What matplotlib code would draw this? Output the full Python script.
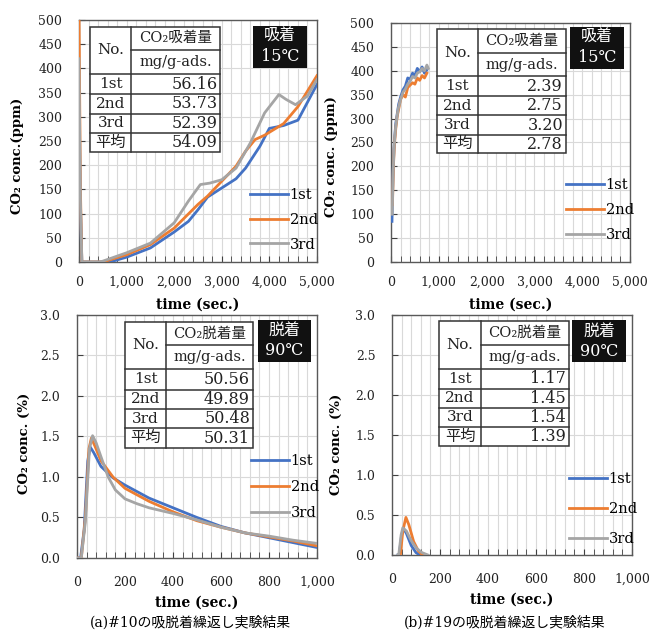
import matplotlib
matplotlib.use("Agg")
import matplotlib.pyplot as plt
from matplotlib.ticker import MultipleLocator, FuncFormatter
from matplotlib.patches import Rectangle

plt.rcParams['font.family'] = ['DejaVu Serif', 'Noto Sans CJK JP']

BLUE = '#4472C4'
ORANGE = '#ED7D31'
GRAY = '#A5A5A5'
series_labels = ['1st', '2nd', '3rd']
row_labels = ['1st', '2nd', '3rd', '平均']

# (a) #10 adsorption, CO2 ppm
a_ads_t1 = [0, 30, 60, 300, 650, 1000, 1500, 2000, 2300, 2500, 2700, 3000, 3300, 3500, 3800, 4000, 4300, 4600, 5000]
a_ads_y1 = [350, 120, 0, 0, 0, 10, 29, 62, 84, 108, 134, 153, 172, 194, 239, 276, 282, 293, 367]
a_ads_t2 = [0, 30, 60, 300, 500, 1000, 1500, 2000, 2500, 2700, 3000, 3300, 3500, 3700, 3900, 4100, 4300, 4600, 5000]
a_ads_y2 = [520, 150, 0, 0, 0, 15, 36, 70, 119, 136, 167, 198, 229, 253, 262, 274, 286, 321, 385]
a_ads_t3 = [0, 30, 60, 300, 450, 1000, 1500, 2000, 2300, 2550, 2750, 3000, 3300, 3600, 3900, 4200, 4350, 4550, 4800, 5000]
a_ads_y3 = [420, 130, 0, 0, 0, 19, 39, 81, 126, 160, 163, 170, 194, 246, 308, 346, 336, 325, 343, 377]
a_ads_table = ['56.16', '53.73', '52.39', '54.09']

# (b) #19 adsorption, CO2 ppm
b_ads_t1 = [20, 40, 60, 80, 100, 130, 160, 200, 250, 300, 350, 400, 450, 500, 550, 600, 650, 700, 750]
b_ads_y1 = [85, 180, 235, 265, 290, 310, 330, 345, 360, 368, 385, 382, 395, 390, 405, 398, 408, 395, 402]
b_ads_t2 = [30, 50, 70, 100, 130, 160, 200, 250, 300, 350, 400, 450, 500, 550, 600, 650, 700, 750]
b_ads_y2 = [120, 200, 245, 280, 305, 320, 340, 350, 345, 365, 370, 375, 372, 385, 380, 390, 385, 395]
b_ads_t3 = [25, 45, 65, 90, 120, 150, 200, 250, 300, 350, 400, 450, 500, 550, 600, 650, 700, 750, 780]
b_ads_y3 = [100, 190, 240, 275, 300, 320, 340, 355, 362, 372, 378, 388, 385, 395, 398, 405, 400, 412, 405]
b_ads_table = ['2.39', '2.75', '3.20', '2.78']

# (a) #10 desorption, CO2 %
a_des_t1 = [0, 15, 30, 45, 55, 70, 100, 150, 200, 300, 400, 500, 600, 700, 800, 900, 1000]
a_des_y1 = [0, 0, 0.35, 1.2, 1.37, 1.30, 1.13, 0.99, 0.90, 0.74, 0.62, 0.50, 0.39, 0.31, 0.25, 0.19, 0.13]
a_des_t2 = [0, 18, 35, 50, 60, 75, 100, 150, 200, 300, 400, 500, 600, 700, 800, 900, 1000]
a_des_y2 = [0, 0, 0.5, 1.35, 1.48, 1.38, 1.20, 1.00, 0.86, 0.70, 0.57, 0.46, 0.38, 0.31, 0.26, 0.21, 0.15]
a_des_t3 = [0, 18, 35, 52, 65, 80, 100, 130, 160, 200, 250, 300, 400, 500, 600, 700, 800, 900, 1000]
a_des_y3 = [0, 0, 0.45, 1.35, 1.51, 1.42, 1.25, 1.00, 0.84, 0.73, 0.67, 0.62, 0.55, 0.47, 0.38, 0.31, 0.27, 0.22, 0.18]
a_des_table = ['50.56', '49.89', '50.48', '50.31']

# (b) #19 desorption, CO2 %
b_des_t1 = [25, 30, 40, 48, 60, 80, 100, 115]
b_des_y1 = [0, 0, 0.25, 0.33, 0.27, 0.12, 0.03, 0]
b_des_t2 = [30, 35, 45, 58, 70, 90, 110, 128]
b_des_y2 = [0, 0, 0.30, 0.47, 0.38, 0.17, 0.05, 0]
b_des_t3 = [25, 28, 38, 45, 60, 80, 100, 125, 150]
b_des_y3 = [0, 0, 0.25, 0.34, 0.30, 0.18, 0.09, 0.03, 0]
b_des_table = ['1.17', '1.45', '1.54', '1.39']

fig = plt.figure(figsize=(6.49, 6.33), dpi=100)


def thousands(v, pos):
    return f'{int(v):,}'


def setup_axes(ax, xmax, xminor, ymax, ystep, yfmt, xpad, lpad):
    ax.set_xlim(0, xmax)
    ax.set_ylim(0, ymax)
    ax.xaxis.set_major_locator(MultipleLocator(xmax / 5))
    ax.xaxis.set_minor_locator(MultipleLocator(xminor))
    ax.xaxis.set_major_formatter(FuncFormatter(thousands))
    ax.yaxis.set_major_locator(MultipleLocator(ystep))
    ax.yaxis.set_major_formatter(FuncFormatter(lambda v, p: yfmt.format(v)))
    ax.grid(True, which='both', axis='x', color='#D9D9D9', lw=0.8)
    ax.grid(True, which='major', axis='y', color='#D9D9D9', lw=0.8)
    ax.set_axisbelow(True)
    ax.tick_params(axis='x', which='both', direction='in', length=4, pad=xpad,
                   labelsize=9, color='#404040', labelcolor='#222222')
    ax.tick_params(axis='y', which='major', direction='in', length=4, pad=12,
                   labelsize=9, color='#404040', labelcolor='#222222')
    for s in ax.spines.values():
        s.set_color('#595959')
        s.set_linewidth(1.0)
    ax.set_xlabel('time (sec.)', fontsize=10, fontweight='bold', labelpad=lpad)


def draw_table(ax, x0, xd, x1, head, values):
    rows = [0.973, 0.875, 0.777, 0.693, 0.613, 0.533, 0.454]
    kw = dict(transform=ax.transAxes, color='#333333', lw=1.1, zorder=6)
    ax.add_patch(Rectangle((x0, rows[-1]), x1 - x0, rows[0] - rows[-1],
                           transform=ax.transAxes, facecolor='white',
                           edgecolor='#333333', lw=1.1, zorder=5))
    ax.plot([xd, xd], [rows[0], rows[-1]], **kw)
    ax.plot([xd, x1], [rows[1], rows[1]], **kw)
    for r in rows[2:-1]:
        ax.plot([x0, x1], [r, r], **kw)
    tk = dict(transform=ax.transAxes, zorder=7, color='#222222')
    ax.text((x0 + xd) / 2, (rows[0] + rows[2]) / 2, 'No.', ha='center', va='center', fontsize=11, **tk)
    ax.text((xd + x1) / 2, (rows[0] + rows[1]) / 2, head, ha='center', va='center', fontsize=10.5, **tk)
    ax.text((xd + x1) / 2, (rows[1] + rows[2]) / 2, 'mg/g-ads.', ha='center', va='center', fontsize=10.5, **tk)
    for i, (lab, val) in enumerate(zip(row_labels, values)):
        yc = (rows[2 + i] + rows[3 + i]) / 2
        ax.text((x0 + xd) / 2, yc, lab, ha='center', va='center', fontsize=11, **tk)
        ax.text(x1 - 0.012, yc, val, ha='right', va='center', fontsize=11.5, **tk)


def draw_badge(ax, x0, x1, y0, y1, text):
    ax.add_patch(Rectangle((x0, y0), x1 - x0, y1 - y0, transform=ax.transAxes,
                           facecolor='#111111', edgecolor='none', zorder=5))
    ax.text((x0 + x1) / 2, (y0 + y1) / 2, text, transform=ax.transAxes, ha='center',
            va='center', color='white', fontsize=11.5, linespacing=1.25, zorder=7)


def draw_lines(ax, data, lx, ly, spacing):
    for (t, y), c, lab in zip(data, [BLUE, ORANGE, GRAY], series_labels):
        ax.plot(t, y, color=c, lw=2, label=lab, zorder=3)
    ax.legend(loc='center left', bbox_to_anchor=(lx, ly), frameon=False, fontsize=10.5,
              handlelength=2.6, handletextpad=0.1, labelspacing=spacing, borderpad=0,
              borderaxespad=0)


# top-left
ax1 = fig.add_axes([0.1217, 0.5861, 0.3667, 0.3823])
setup_axes(ax1, 5000, 200, 500, 50, '{:.0f}', 10, 6)
draw_lines(ax1, [(a_ads_t1, a_ads_y1), (a_ads_t2, a_ads_y2), (a_ads_t3, a_ads_y3)], 0.72, 0.175, 0.75)
draw_table(ax1, 0.048, 0.2205, 0.593, 'CO₂吸着量', a_ads_table)
draw_badge(ax1, 0.733, 0.958, 0.803, 0.975, '吸着\n15℃')
ax1.set_ylabel('CO₂ conc.(ppm)', fontsize=9.5, fontweight='bold')
ax1.yaxis.set_label_coords(-0.231, 0.44)

# top-right
ax2 = fig.add_axes([0.6025, 0.5861, 0.3683, 0.3776])
setup_axes(ax2, 5000, 200, 500, 50, '{:.0f}', 10, 6)
draw_lines(ax2, [(b_ads_t1, b_ads_y1), (b_ads_t2, b_ads_y2), (b_ads_t3, b_ads_y3)], 0.733, 0.218, 0.75)
draw_table(ax2, 0.192, 0.363, 0.731, 'CO₂吸着量', b_ads_table)
draw_badge(ax2, 0.749, 0.976, 0.809, 0.983, '吸着\n15℃')
ax2.set_ylabel('CO₂ conc. (ppm)', fontsize=9.5, fontweight='bold')
ax2.yaxis.set_label_coords(-0.222, 0.44)

# bottom-left
ax3 = fig.add_axes([0.1186, 0.1185, 0.3698, 0.3839])
setup_axes(ax3, 1000, 40, 3.0, 0.5, '{:.1f}', 13, 5)
draw_lines(ax3, [(a_des_t1, a_des_y1), (a_des_t2, a_des_y2), (a_des_t3, a_des_y3)], 0.726, 0.292, 0.8)
draw_table(ax3, 0.199, 0.372, 0.733, 'CO₂脱着量', a_des_table)
draw_badge(ax3, 0.753, 0.976, 0.808, 0.979, '脱着\n90℃')
ax3.set_ylabel('CO₂ conc. (%)', fontsize=9.5, fontweight='bold')
ax3.yaxis.set_label_coords(-0.192, 0.473)

# bottom-right
ax4 = fig.add_axes([0.6040, 0.1232, 0.3698, 0.3792])
setup_axes(ax4, 1000, 40, 3.0, 0.5, '{:.1f}', 13, 5)
draw_lines(ax4, [(b_des_t1, b_des_y1), (b_des_t2, b_des_y2), (b_des_t3, b_des_y3)], 0.739, 0.19, 1.1)
draw_table(ax4, 0.197, 0.370, 0.736, 'CO₂脱着量', b_des_table)
draw_badge(ax4, 0.752, 0.976, 0.803, 0.979, '脱着\n90℃')
ax4.set_ylabel('CO₂ conc. (%)', fontsize=9.5, fontweight='bold')
ax4.yaxis.set_label_coords(-0.204, 0.46)

fig.text(0.293, 0.017, '(a)#10の吸脱着繰返し実験結果', ha='center', va='center', fontsize=10)
fig.text(0.778, 0.017, '(b)#19の吸脱着繰返し実験結果', ha='center', va='center', fontsize=10)

fig.savefig('out.png', dpi=100, facecolor='white')
